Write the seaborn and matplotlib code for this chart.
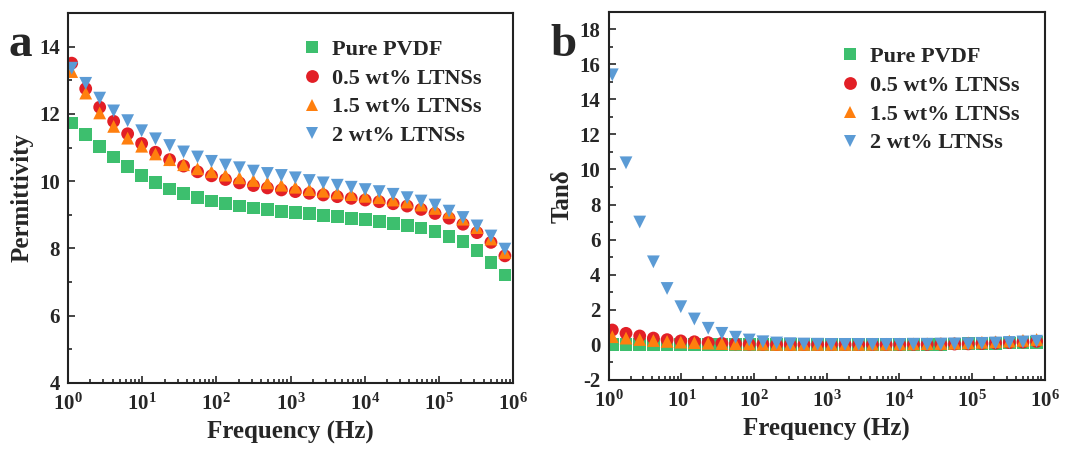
import numpy as np
import pandas as pd
import matplotlib
matplotlib.use("Agg")
import matplotlib.pyplot as plt
from matplotlib.ticker import LogLocator, MultipleLocator, NullFormatter
import seaborn as sns

sns.set_style("ticks")
plt.rcParams['font.family'] = ['Liberation Serif', 'DejaVu Serif']
plt.rcParams['font.weight'] = 'bold'
plt.rcParams['mathtext.fontset'] = 'custom'
plt.rcParams['mathtext.rm'] = 'Liberation Serif:bold'
plt.rcParams['mathtext.it'] = 'Liberation Serif:bold'
plt.rcParams['mathtext.bf'] = 'Liberation Serif:bold'
plt.rcParams['axes.unicode_minus'] = False

# ---------------- data ----------------
freq = [1.12, 1.73, 2.67, 4.12, 6.36, 9.82, 15.1, 23.4, 36.1, 55.7, 85.9,
        132.6, 204.6, 315.7, 487.5, 751.6, 1160, 1791, 2762, 4266, 6577,
        10140, 15670, 24150, 37330, 57540, 88720, 137100, 211300, 326600,
        503500, 776200]

series_names = ["Pure PVDF", "0.5 wt% LTNSs", "1.5 wt% LTNSs", "2 wt% LTNSs"]

perm_pure = [11.73, 11.39, 11.02, 10.72, 10.43, 10.18, 9.95, 9.77, 9.64, 9.51,
             9.41, 9.34, 9.26, 9.20, 9.15, 9.11, 9.06, 9.03, 8.98, 8.94, 8.90,
             8.86, 8.81, 8.75, 8.69, 8.61, 8.50, 8.35, 8.21, 7.95, 7.58, 7.21]
perm_05 = [13.51, 12.75, 12.20, 11.78, 11.41, 11.12, 10.86, 10.64, 10.45, 10.28,
           10.16, 10.05, 9.95, 9.87, 9.80, 9.74, 9.69, 9.64, 9.59, 9.54, 9.49,
           9.44, 9.39, 9.33, 9.26, 9.16, 9.04, 8.90, 8.72, 8.47, 8.18, 7.78]
perm_15 = [13.26, 12.62, 12.03, 11.63, 11.28, 11.04, 10.81, 10.64, 10.49, 10.37,
           10.28, 10.18, 10.10, 10.02, 9.95, 9.88, 9.82, 9.75, 9.70, 9.65, 9.60,
           9.55, 9.51, 9.44, 9.38, 9.29, 9.19, 9.07, 8.87, 8.62, 8.28, 7.88]
perm_2 = [13.36, 12.91, 12.47, 12.09, 11.80, 11.50, 11.26, 11.06, 10.87, 10.72,
          10.59, 10.48, 10.40, 10.30, 10.23, 10.17, 10.10, 10.02, 9.95, 9.88,
          9.82, 9.75, 9.69, 9.61, 9.51, 9.41, 9.29, 9.11, 8.92, 8.67, 8.37, 7.98]

tan_pure = [0.03, 0.03, 0.02, 0.02, 0.02, 0.02, 0.02, 0.02, 0.02, 0.02, 0.02,
            0.02, 0.02, 0.02, 0.02, 0.02, 0.02, 0.02, 0.02, 0.02, 0.02, 0.02,
            0.02, 0.03, 0.03, 0.04, 0.05, 0.06, 0.08, 0.10, 0.12, 0.15]
tan_05 = [0.84, 0.65, 0.50, 0.38, 0.29, 0.22, 0.17, 0.12, 0.08, 0.05, 0.03,
          0.02, 0.01, 0.01, 0.01, 0.01, 0.01, 0.01, 0.01, 0.01, 0.01, 0.01,
          0.02, 0.02, 0.03, 0.04, 0.05, 0.07, 0.09, 0.12, 0.15, 0.19]
tan_15 = [0.46, 0.38, 0.30, 0.24, 0.19, 0.15, 0.12, 0.09, 0.07, 0.05, 0.04,
          0.03, 0.02, 0.02, 0.02, 0.02, 0.02, 0.02, 0.02, 0.03, 0.03, 0.04,
          0.05, 0.06, 0.07, 0.09, 0.11, 0.14, 0.17, 0.21, 0.25, 0.30]
tan_2 = [15.40, 10.38, 7.00, 4.73, 3.21, 2.17, 1.47, 0.94, 0.65, 0.43, 0.27,
         0.17, 0.10, 0.06, 0.04, 0.03, 0.02, 0.02, 0.02, 0.02, 0.02, 0.02,
         0.03, 0.03, 0.04, 0.05, 0.06, 0.08, 0.10, 0.13, 0.16, 0.20]

colors = ["#3dbf6e", "#e21f26", "#ff7f0e", "#5b9bd5"]
markers = ["s", "o", "^", "v"]


def long_df(vals):
    rows = []
    for name, v in zip(series_names, vals):
        for f, y in zip(freq, v):
            rows.append({"Frequency": f, "Value": y, "Sample": name})
    return pd.DataFrame(rows)


df_perm = long_df([perm_pure, perm_05, perm_15, perm_2])
df_tan = long_df([tan_pure, tan_05, tan_15, tan_2])

fig = plt.figure(figsize=(10.87, 4.5), dpi=100)
ax1 = fig.add_axes([0.0626, 0.149, 0.4094, 0.822])
ax2 = fig.add_axes([0.560, 0.156, 0.401, 0.818])

pal = dict(zip(series_names, colors))
mk = dict(zip(series_names, markers))

for ax, df, anchor in [(ax1, df_perm, (0.478, 0.983)), (ax2, df_tan, (0.482, 0.96))]:
    sns.scatterplot(data=df, x="Frequency", y="Value", hue="Sample",
                    style="Sample", palette=pal, markers=mk,
                    hue_order=series_names, style_order=series_names,
                    s=85, linewidth=0, ax=ax, legend=True)
    ax.set_xscale("log")
    ax.set_xlim(1, 1e6)
    ax.xaxis.set_major_locator(LogLocator(base=10, numticks=10))
    ax.xaxis.set_minor_locator(LogLocator(base=10, subs=np.arange(2, 10), numticks=20))
    ax.xaxis.set_minor_formatter(NullFormatter())
    ax.tick_params(which="both", direction="in", top=False, right=False,
                   labelsize=15, width=1.2)
    ax.tick_params(axis="x", which="major", pad=8)
    ax.tick_params(axis="y", which="major", pad=6)
    ax.tick_params(which="major", length=5)
    ax.tick_params(which="minor", length=3)
    for sp in ax.spines.values():
        sp.set_linewidth(1.5)
        sp.set_color("#222222")
    ax.set_xlabel("Frequency (Hz)", fontsize=18, fontweight="bold", labelpad=4)
    for lab in ax.get_xticklabels() + ax.get_yticklabels():
        lab.set_fontweight("bold")
    leg = ax.legend(loc="upper left", bbox_to_anchor=anchor,
                    frameon=False, fontsize=16, handlelength=1.0,
                    handletextpad=0.4, labelspacing=0.37, markerscale=1.0)
    for t in leg.get_texts():
        t.set_fontweight("bold")

ax1.set_ylim(4, 15)
ax1.yaxis.set_major_locator(MultipleLocator(2))
ax1.yaxis.set_minor_locator(MultipleLocator(1))
ax1.set_ylabel("Permittivity", fontsize=18, fontweight="bold")

ax2.set_ylim(-2, 19)
ax2.yaxis.set_major_locator(MultipleLocator(2))
ax2.yaxis.set_minor_locator(MultipleLocator(1))
ax2.set_ylabel("Tan\u03b4", fontsize=18, fontweight="bold")

fig.text(0.008, 0.875, "a", fontsize=34, fontweight="bold")
fig.text(0.506, 0.875, "b", fontsize=34, fontweight="bold")

fig.savefig("out.png", dpi=100)
